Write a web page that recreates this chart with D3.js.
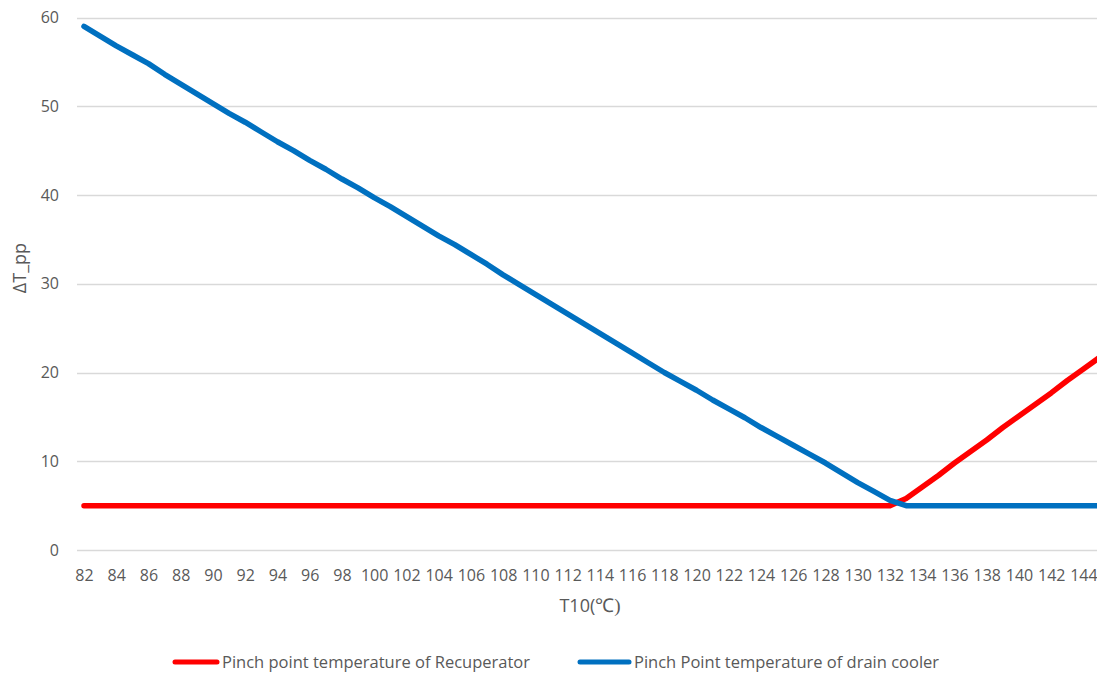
<!DOCTYPE html>
<html>
<head>
<meta charset="utf-8">
<script src="https://cdn.jsdelivr.net/npm/d3@7"></script>
<style>
  html, body { margin: 0; padding: 0; background: #fff; overflow: hidden; }
  svg { display: block; }
</style>
</head>
<body>
<svg id="chart" width="1097" height="675"></svg>
<script>
// T10 outlet temperature (°C), one category per degree
const categories = d3.range(82, 146);

// Pinch point temperature of Recuperator (°C)
const recuperator = [
  5.0, 5.0, 5.0, 5.0, 5.0, 5.0, 5.0, 5.0, 5.0, 5.0,   // 82-91
  5.0, 5.0, 5.0, 5.0, 5.0, 5.0, 5.0, 5.0, 5.0, 5.0,   // 92-101
  5.0, 5.0, 5.0, 5.0, 5.0, 5.0, 5.0, 5.0, 5.0, 5.0,   // 102-111
  5.0, 5.0, 5.0, 5.0, 5.0, 5.0, 5.0, 5.0, 5.0, 5.0,   // 112-121
  5.0, 5.0, 5.0, 5.0, 5.0, 5.0, 5.0, 5.0, 5.0, 5.0,   // 122-131
  5.0, 5.8, 7.1, 8.4, 9.8, 11.1, 12.4, 13.8, 15.1, 16.4, // 132-141
  17.7, 19.1, 20.4, 21.7                               // 142-145
];

// Pinch Point temperature of drain cooler (°C)
const drainCooler = [
  59.0, 57.9, 56.8, 55.8, 54.8, 53.6, 52.5, 51.4, 50.3, 49.2, // 82-91
  48.2, 47.1, 46.0, 45.0, 43.9, 42.9, 41.8, 40.8, 39.7, 38.7, // 92-101
  37.6, 36.5, 35.4, 34.4, 33.3, 32.2, 31.0, 29.9, 28.8, 27.7, // 102-111
  26.6, 25.5, 24.4, 23.3, 22.2, 21.1, 20.0, 19.0, 18.0, 16.9, // 112-121
  15.9, 14.9, 13.8, 12.8, 11.8, 10.8, 9.8, 8.7, 7.6, 6.6,     // 122-131
  5.6, 5.0, 5.0, 5.0, 5.0, 5.0, 5.0, 5.0, 5.0, 5.0,           // 132-141
  5.0, 5.0, 5.0, 5.0                                          // 142-145
];

const xTickLabels = d3.range(82, 146, 2);
const yTicks = [0, 10, 20, 30, 40, 50, 60];

const seriesNames = ["Pinch point temperature of Recuperator", "Pinch Point temperature of drain cooler"];
const seriesColors = ["#FF0000", "#0070C0"];

const svg = d3.select("#chart");
const W = 1097;
const plotLeft = 77;
const step = 16.12;

const x = d3.scalePoint()
  .domain(categories)
  .range([plotLeft + 7, plotLeft + 7 + step * (categories.length - 1)]);

const y = d3.scaleLinear().domain([0, 60]).range([550, 17.5]);

const textColor = "#595959";
const font = "'Open Sans', 'Noto Sans', sans-serif";

// horizontal gridlines
svg.append("g")
  .selectAll("line")
  .data(yTicks)
  .join("line")
  .attr("x1", plotLeft)
  .attr("x2", W)
  .attr("y1", d => Math.round(y(d)) + 0.5)
  .attr("y2", d => Math.round(y(d)) + 0.5)
  .attr("stroke", "#D9D9D9")
  .attr("stroke-width", 1.3);

// y axis tick labels
const yAxis = d3.axisLeft(y).tickValues(yTicks).tickSize(0).tickPadding(0);
svg.append("g")
  .attr("transform", "translate(59,0)")
  .call(yAxis)
  .call(g => g.select(".domain").remove())
  .call(g => g.selectAll("text")
    .attr("fill", textColor)
    .style("font-family", font)
    .style("font-size", "16px"));

// x axis tick labels (every other category)
const xAxis = d3.axisBottom(x).tickValues(xTickLabels).tickSize(0).tickPadding(0);
svg.append("g")
  .attr("transform", "translate(0,570)")
  .call(xAxis)
  .call(g => g.select(".domain").remove())
  .call(g => g.selectAll("text")
    .attr("fill", textColor)
    .style("font-family", font)
    .style("font-size", "16px"));

// axis titles
svg.append("text")
  .attr("transform", "translate(26,268) rotate(-90)")
  .attr("text-anchor", "middle")
  .attr("fill", textColor)
  .style("font-family", font)
  .style("font-size", "18px")
  .text("ΔT_pp");

const xt = svg.append("text")
  .attr("x", 590)
  .attr("y", 612)
  .attr("text-anchor", "middle")
  .attr("fill", textColor)
  .style("font-family", font)
  .style("font-size", "18px");
xt.append("tspan").text("T10(");
xt.append("tspan").style("font-family", "'Liberation Serif', serif").style("font-size", "19px").text("℃)");

// series lines
const line = d3.line()
  .x((d, i) => x(categories[i]))
  .y(d => y(d));

[recuperator, drainCooler].forEach((vals, k) => {
  svg.append("path")
    .datum(vals)
    .attr("d", line)
    .attr("fill", "none")
    .attr("stroke", seriesColors[k])
    .attr("stroke-width", 5.5)
    .attr("stroke-linejoin", "round")
    .attr("stroke-linecap", "round");
});

// legend
const legendItems = [
  { x1: 175, x2: 217, tx: 222 },
  { x1: 580, x2: 629, tx: 634 }
];
const legend = svg.append("g");
legendItems.forEach((it, k) => {
  legend.append("line")
    .attr("x1", it.x1).attr("x2", it.x2)
    .attr("y1", 662).attr("y2", 662)
    .attr("stroke", seriesColors[k])
    .attr("stroke-width", 5)
    .attr("stroke-linecap", "round");
  legend.append("text")
    .attr("x", it.tx)
    .attr("y", 668)
    .attr("fill", textColor)
    .style("font-family", font)
    .style("font-size", "16.5px")
    .text(seriesNames[k]);
});
</script>
</body>
</html>
